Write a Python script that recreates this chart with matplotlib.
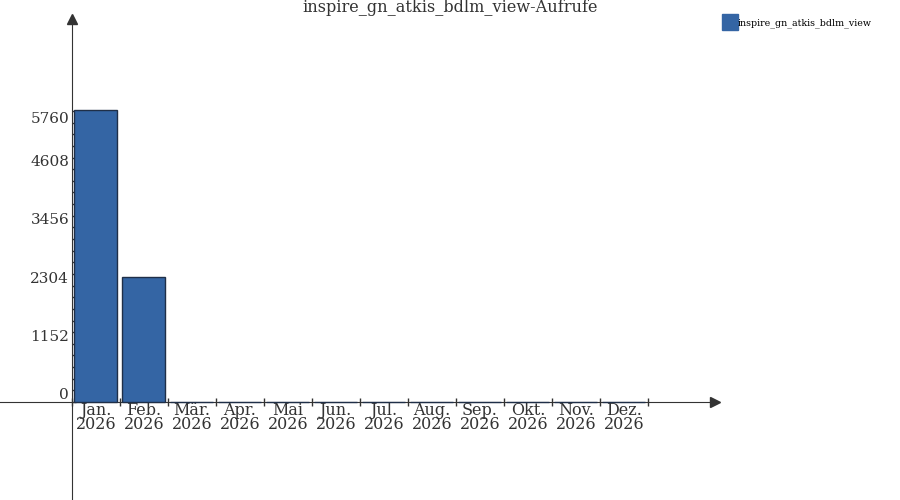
import matplotlib.pyplot as plt
from matplotlib.patches import Patch
from matplotlib.transforms import ScaledTranslation
import numpy as np

plt.rcParams['font.family'] = 'DejaVu Serif'

title = 'inspire_gn_atkis_bdlm_view-Aufrufe'
series_name = 'inspire_gn_atkis_bdlm_view'
months = ['Jan.', 'Feb.', 'Mär.', 'Apr.', 'Mai', 'Jun.', 'Jul.', 'Aug.',
          'Sep.', 'Okt.', 'Nov.', 'Dez.']
year = '2026'
values = [5775, 2475, 0, 0, 0, 0, 0, 0, 0, 0, 0, 0]
yticks = [0, 1152, 2304, 3456, 4608, 5760]

grey = '#333333'
blue = '#3465a4'
edge = '#1f2f48'

W, H = 900, 500
fig = plt.figure(figsize=(W / 100, H / 100), dpi=100)
ax = fig.add_axes([0, 0, 1, 1])

# pixel layout: category width 48 px starting at x=72, zero line at y=402 (from top)
cat_px = 48.0
x0_px = 72.0
y0_px = 402.0
upp = 1152 / 58.2  # data units per pixel on y
ax.set_xlim(-x0_px / cat_px, (W - x0_px) / cat_px)
ax.set_ylim(-(H - y0_px) * upp, y0_px * upp)

x = np.arange(len(months))
ax.bar(x + 0.04, values, width=0.9, align='edge', color=blue,
       edgecolor=edge, linewidth=1, zorder=3)

for s in ['top', 'right']:
    ax.spines[s].set_visible(False)
ax.spines['left'].set_position(('data', 0))
ax.spines['bottom'].set_position(('data', 0))
ax.spines['left'].set_color(grey)
ax.spines['bottom'].set_color(grey)
ax.spines['left'].set_bounds(ax.get_ylim()[0], (y0_px - 20) * upp)
x_end = (712 - x0_px) / cat_px
ax.spines['bottom'].set_bounds(ax.get_xlim()[0], x_end)

# arrows
ax.plot([0], [(y0_px - 19) * upp], marker='^', color=grey, markersize=7,
        clip_on=False, zorder=5)
ax.plot([x_end + 0.06], [0], marker='>', color=grey, markersize=7,
        clip_on=False, zorder=5)

# x ticks at category boundaries, labels centred between
ax.set_xticks(np.arange(len(months) + 1))
ax.set_xticklabels([])
ax.tick_params(axis='x', which='major', direction='inout', length=6,
               width=1, color=grey)
ax.set_xticks(x + 0.5, minor=True)
ax.set_xticklabels([m + '\n' + year for m in months], minor=True,
                   fontsize=11.5, color=grey, linespacing=0.78)
ax.tick_params(axis='x', which='minor', length=0, pad=0)

# y ticks
ax.set_yticks(yticks)
ax.set_yticklabels([str(t) for t in yticks], fontsize=11, color=grey)
ax.set_yticks(np.arange(0, yticks[-1] + 1, yticks[1] / 5), minor=True)
ax.tick_params(axis='y', which='both', direction='in', length=3,
               width=1, color=grey, pad=2)
labels = ax.get_yticklabels()
base = labels[0].get_transform()
for lbl in labels[:-1]:
    lbl.set_va('baseline')
    lbl.set_transform(base + ScaledTranslation(0, 3 / 100, fig.dpi_scale_trans))
labels[-1].set_va('top')
labels[-1].set_transform(base + ScaledTranslation(0, -1 / 100, fig.dpi_scale_trans))

ax.text(0.5, 1 - 8 / H, title, transform=fig.transFigure, ha='center',
        va='center', fontsize=11.6, color=grey)

fig.legend(handles=[Patch(facecolor=blue, edgecolor=blue, label=series_name)],
           loc='upper left', bbox_to_anchor=(722 / W, 1 - 14 / H),
           frameon=False, fontsize=6.8, handlelength=1.7, handleheight=2.3,
           handletextpad=0.0, borderpad=0, borderaxespad=0)

fig.savefig('out.png', dpi=100)
